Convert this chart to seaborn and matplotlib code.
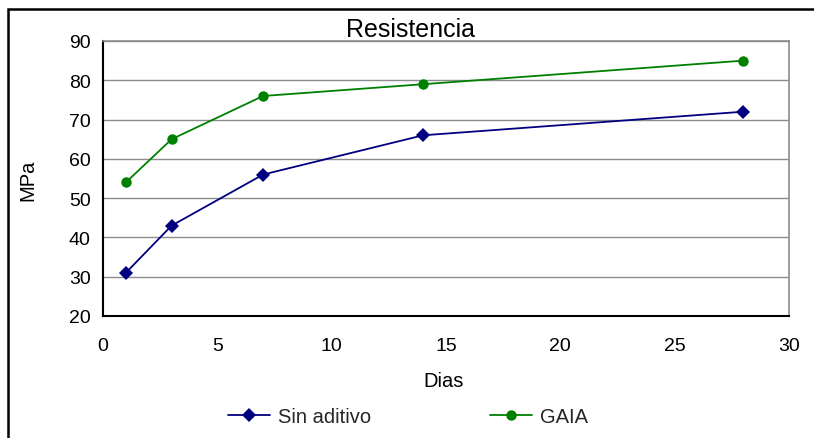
import matplotlib
matplotlib.use("Agg")
import matplotlib.pyplot as plt
import matplotlib.patches as mpatches
import seaborn as sns
import pandas as pd

# Compressive strength by curing age
dias = [1, 3, 7, 14, 28]
sin_aditivo = [31, 43, 56, 66, 72]
gaia = [54, 65, 76, 79, 85]
series_names = ["Sin aditivo", "GAIA"]
x_ticks = [0, 5, 10, 15, 20, 25, 30]
y_ticks = [20, 30, 40, 50, 60, 70, 80, 90]

df = pd.DataFrame({
    "Dias": dias * 2,
    "MPa": sin_aditivo + gaia,
    "serie": [series_names[0]] * len(dias) + [series_names[1]] * len(dias),
})

sns.set_theme(style="white")
plt.rcParams["font.family"] = ["Liberation Sans", "DejaVu Sans"]

fig = plt.figure(figsize=(8.14, 4.39), dpi=100)
ax = fig.add_axes([103 / 814, 1 - 317 / 439, (789 - 103) / 814, (317 - 42) / 439])

palette = {"Sin aditivo": "#000080", "GAIA": "#008000"}
markers = {"Sin aditivo": "D", "GAIA": "o"}
sns.lineplot(data=df, x="Dias", y="MPa", hue="serie", style="serie",
             palette=palette, markers=markers, dashes=False, ax=ax,
             linewidth=1.3, markeredgewidth=0)
for line in ax.get_lines():
    if line.get_marker() == "D":
        line.set_markersize(7)
    elif line.get_marker() == "o":
        line.set_markersize(7.5)

ax.set_xlim(0, 30)
ax.set_ylim(20, 90)
ax.set_xticks(x_ticks)
ax.set_yticks(y_ticks)
ax.tick_params(axis="both", direction="out", length=5, width=1.2,
               colors="black", labelsize=14)
ax.tick_params(axis="x", pad=10)
ax.tick_params(axis="y", pad=4)
ax.grid(axis="y", color="#8c8c8c", linewidth=1)
ax.grid(axis="x", visible=False)
for side in ["left", "bottom"]:
    ax.spines[side].set_color("black")
    ax.spines[side].set_linewidth(1.5)
for side in ["top", "right"]:
    ax.spines[side].set_color("#8c8c8c")
    ax.spines[side].set_linewidth(1.2)
ax.set_xlabel("")
ax.set_ylabel("")
ax.get_legend().remove()

fig.text(410 / 814, 1 - 30 / 439, "Resistencia", ha="center", va="center",
         fontsize=18, color="black")
fig.text(28 / 814, 1 - 180 / 439, "MPa", ha="center", va="center",
         rotation=90, fontsize=14.5, color="black")
fig.text(444 / 814, 1 - 382 / 439, "Dias", ha="center", va="center",
         fontsize=14.5, color="black")

handles = ax.get_lines()[:2]
fig.legend(handles, series_names, loc="center", ncol=2,
           bbox_to_anchor=(408 / 814, 1 - 418 / 439), frameon=False,
           fontsize=14.5, handlelength=2.1, handletextpad=0.4,
           columnspacing=5.9)

# Outer chart frame
fig.patches.append(mpatches.Rectangle((8 / 814, -0.2), 1.2, 1.2 - 9.5 / 439,
                                      transform=fig.transFigure, fill=False,
                                      edgecolor="black", linewidth=1.8))

fig.savefig("out.png", dpi=100)
